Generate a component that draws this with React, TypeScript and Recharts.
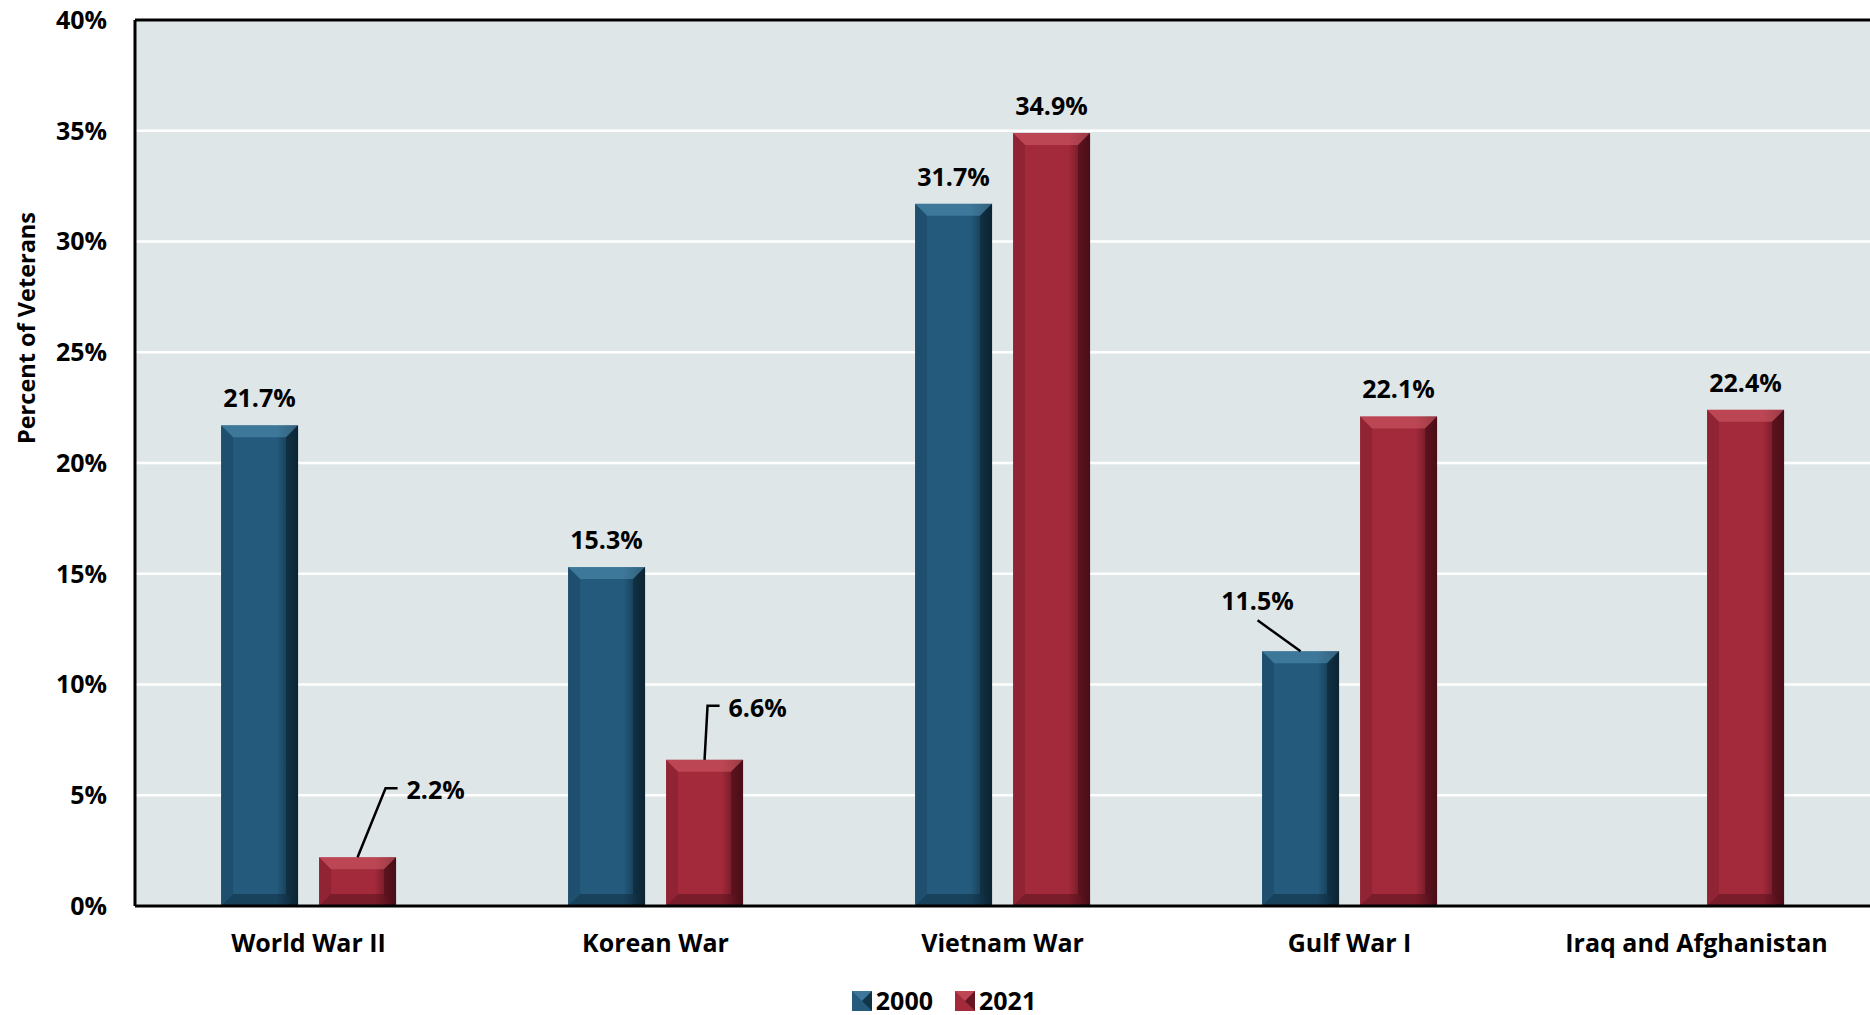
import React from 'react';
import { BarChart, Bar, XAxis, YAxis, CartesianGrid, Legend, LabelList, ReferenceLine, Label } from 'recharts';

const categories = ['World War II', 'Korean War', 'Vietnam War', 'Gulf War I', 'Iraq and Afghanistan'];
const values2000: (number | null)[] = [21.7, 15.3, 31.7, 11.5, null];
const values2021: (number | null)[] = [2.2, 6.6, 34.9, 22.1, 22.4];
const yTicks = [0, 5, 10, 15, 20, 25, 30, 35, 40];
const seriesNames = ['2000', '2021'];

const data = categories.map((c, i) => ({ name: c, s2000: values2000[i], s2021: values2021[i] }));

// label placement styles: offsets of label vs bar-top centre, with leader line
const leader2000: Record<number, { dx: number; dy: number; kind: string }> = {
  3: { dx: -43, dy: -51, kind: 'diag' },
};
const leader2021: Record<number, { dx: number; dy: number; kind: string }> = {
  0: { dx: 28, dy: -69, kind: 'elbow' },
  1: { dx: 3, dy: -54, kind: 'elbow' },
};

const FONT = '"Open Sans", Lato, sans-serif';
const BLUE = { main: '#245b7d', light: '#4f8aab', dark: '#0b2433', id: 'b' };
const RED = { main: '#a32a3b', light: '#cf5a66', dark: '#4a0e17', id: 'r' };

let shapeCounter = 0;
const makeShape = (pal: typeof BLUE) => (props: any) => {
  const { x, y, width, height } = props;
  if (!height || height <= 0) return <g />;
  const b = Math.min(12, height / 3);
  const id = `${pal.id}${shapeCounter++}`;
  return (
    <g>
      <defs>
        <linearGradient id={`h${id}`} x1="0" y1="0" x2="1" y2="0">
          <stop offset="0" stopColor={pal.main} />
          <stop offset="0.72" stopColor={pal.main} />
          <stop offset="1" stopColor={pal.dark} />
        </linearGradient>
      </defs>
      <rect x={x} y={y} width={width} height={height} fill={`url(#h${id})`} />
      <polygon points={`${x},${y} ${x + width},${y} ${x + width - b},${y + b} ${x + b},${y + b}`} fill={pal.light} opacity={0.6} />
      <polygon points={`${x},${y} ${x + b},${y + b} ${x + b},${y + height - b} ${x},${y + height}`} fill={pal.dark} opacity={0.2} />
      <polygon points={`${x + width},${y} ${x + width - b},${y + b} ${x + width - b},${y + height - b} ${x + width},${y + height}`} fill={pal.dark} opacity={0.6} />
      <polygon points={`${x},${y + height} ${x + b},${y + height - b} ${x + width - b},${y + height - b} ${x + width},${y + height}`} fill={pal.dark} opacity={0.45} />
    </g>
  );
};

const makeLabel = (leaders: Record<number, { dx: number; dy: number; kind: string }>) => (props: any) => {
  const { x, y, width, value, index } = props;
  if (value == null) return null;
  const cx = x + width / 2;
  const text = `${Number(value).toFixed(1)}%`;
  const L = leaders[index];
  const style = { fontFamily: FONT, fontWeight: 700, fontSize: 25, fill: '#000' } as any;
  if (!L) {
    return (
      <text x={cx} y={y - 28} textAnchor="middle" dominantBaseline="central" style={style}>{text}</text>
    );
  }
  if (L.kind === 'elbow') {
    const ex = cx + L.dx;
    const ey = y + L.dy;
    return (
      <g>
        <polyline points={`${cx},${y} ${ex},${ey} ${ex + 12},${ey}`} fill="none" stroke="#000" strokeWidth={2.5} />
        <text x={ex + 21} y={ey + 1} textAnchor="start" dominantBaseline="central" style={style}>{text}</text>
      </g>
    );
  }
  const ex = cx + L.dx;
  const ey = y + L.dy + 20;
  return (
    <g>
      <line x1={cx} y1={y} x2={ex} y2={ey} stroke="#000" strokeWidth={2.5} />
      <text x={ex} y={ey - 20} textAnchor="middle" dominantBaseline="central" style={style}>{text}</text>
    </g>
  );
};

const LegendContent = () => (
  <div style={{ display: 'flex', justifyContent: 'center', alignItems: 'center', paddingLeft: 18, fontFamily: FONT, fontWeight: 700, fontSize: 25, lineHeight: '25px', color: '#000' }}>
    {[BLUE, RED].map((p, i) => (
      <div key={i} style={{ display: 'flex', alignItems: 'center', marginRight: i === 0 ? 22 : 0 }}>
        <svg width={20} height={20} style={{ marginRight: 4 }}>
          <rect x={0} y={0} width={20} height={20} fill={p.main} />
          <polygon points="0,0 20,0 10,10" fill={p.light} opacity={0.6} />
          <polygon points="20,0 20,20 10,10" fill={p.dark} opacity={0.7} />
        </svg>
        <span>{seriesNames[i]}</span>
      </div>
    ))}
  </div>
);

export default function App() {
  shapeCounter = 0;
  return (
    <div style={{ position: 'absolute', left: 0, top: 0, width: 1870, height: 1015, background: '#fff' }}>
      <BarChart
        width={1870}
        height={1015}
        data={data}
        margin={{ top: 20, right: 0, left: 0, bottom: 0 }}
        barCategoryGap="24.8%"
        barGap={21}
      >
        <CartesianGrid vertical={false} stroke="#ffffff" strokeWidth={2.5} fill="#dfe6e8" fillOpacity={1} />
        <XAxis
          dataKey="name"
          height={109}
          tickLine={false}
          tickSize={0}
          tickMargin={28}
          axisLine={{ stroke: '#000', strokeWidth: 3 }}
          tick={{ fontFamily: FONT, fontWeight: 700, fontSize: 25, fill: '#000' }}
          interval={0}
        />
        <YAxis
          width={135}
          domain={[0, 40]}
          ticks={yTicks}
          tickFormatter={(v: number) => `${v}%`}
          tickLine={false}
          tickSize={0}
          tickMargin={28}
          axisLine={{ stroke: '#000', strokeWidth: 3 }}
          tick={{ fontFamily: FONT, fontWeight: 700, fontSize: 25, fill: '#000' }}
          allowDataOverflow
        >
          <Label
            content={() => (
              <text
                x={26}
                y={328}
                transform="rotate(-90 26 328)"
                textAnchor="middle"
                dominantBaseline="central"
                style={{ fontFamily: FONT, fontWeight: 700, fontSize: 23.5, fill: '#000' }}
              >
                Percent of Veterans
              </text>
            )}
          />
        </YAxis>
        <ReferenceLine y={40} stroke="#000" strokeWidth={3} />
        <Legend
          verticalAlign="middle"
          align="center"
          layout="horizontal"
          wrapperStyle={{ top: 988, left: 0, width: 1870 }}
          content={<LegendContent />}
        />
        <Bar dataKey="s2000" name="2000" fill={BLUE.main} isAnimationActive={false} shape={makeShape(BLUE)}>
          <LabelList dataKey="s2000" content={makeLabel(leader2000)} />
        </Bar>
        <Bar dataKey="s2021" name="2021" fill={RED.main} isAnimationActive={false} shape={makeShape(RED)}>
          <LabelList dataKey="s2021" content={makeLabel(leader2021)} />
        </Bar>
      </BarChart>
    </div>
  );
}
